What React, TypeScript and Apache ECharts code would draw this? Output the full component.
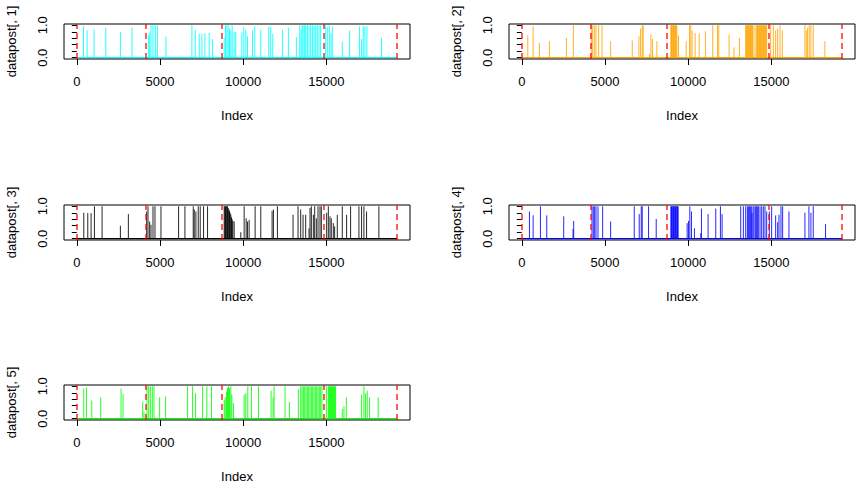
import React, { useEffect, useRef } from "react";
import * as echarts from "echarts";

const N = 19260;
const changePoints = [1, 4120, 8700, 14840, 19260];
const xTicks = [0, 5000, 10000, 15000];
const yTicks = [0, 0.2, 0.4, 0.6, 0.8, 1.0];
const yLabels = [0, 1];
const seriesNames = ["datapost[, 1]", "datapost[, 2]", "datapost[, 3]", "datapost[, 4]", "datapost[, 5]"];
const seriesColors = ["#00FFFF", "#FFA500", "#000000", "#0000FF", "#00FF00"];

const spikes1 = [
  [400, 0.97], [620, 0.84], [1040, 0.88], [1740, 0.93], [2620, 0.8], [3320, 0.93],
  [4300, 0.7], [4380, 0.77], [4460, 1], [4580, 1], [4720, 1], [4840, 1],
  [5360, 0.65], [6920, 1], [7120, 0.86], [7360, 0.74], [7520, 0.74], [7700, 0.76], [7960, 0.77], [8160, 0.58],
  [8860, 0.63], [8940, 1], [9020, 1], [9100, 1], [9180, 0.9], [9260, 0.84], [9340, 1], [9460, 0.8], [9560, 0.8],
  [9920, 0.79], [10040, 0.95], [10160, 0.86], [10260, 0.66], [10560, 0.84], [10700, 0.97], [11060, 0.86],
  [11540, 0.97], [11660, 0.95], [11780, 0.74], [12360, 0.86], [12720, 0.93], [13200, 0.64],
  [13400, 1], [13480, 0.86], [13540, 1], [13600, 1], [13680, 1], [13760, 1], [13860, 1], [13960, 1], [14060, 1],
  [14160, 1], [14260, 1], [14360, 1], [14460, 1], [14560, 1], [14660, 1],
  [14960, 1], [15060, 0.95], [15180, 1], [15280, 0.74], [15360, 0.97], [15960, 0.5], [16400, 0.84],
  [17000, 0.97], [17120, 0.58], [17220, 0.97], [17320, 0.97], [17440, 0.97], [18320, 0.61],
];

const spikes2 = [
  [360, 0.69], [680, 0.97], [1060, 0.45], [1660, 0.51], [2680, 0.61], [3100, 1],
  [4180, 1], [4260, 1], [4360, 1], [4460, 1], [4620, 1], [4820, 1],
  [5340, 0.51], [6640, 0.53], [7040, 0.66], [7140, 0.9], [7240, 1], [7300, 1], [7680, 0.12], [7760, 0.71], [7860, 0.58], [8120, 0.51],
  [8960, 1], [9000, 1], [9040, 1], [9080, 1], [9120, 1], [9160, 1], [9200, 1], [9240, 1], [9280, 1], [9320, 1],
  [9420, 0.69], [9880, 0.51], [10080, 1], [10160, 1], [10240, 0.84], [10420, 0.76], [10660, 0.74], [11040, 0.82],
  [11480, 1], [11760, 1], [11840, 1], [12460, 0.72], [12760, 0.32], [13080, 0.61],
  [13460, 1], [13500, 1], [13540, 1], [13580, 1], [13620, 1], [13660, 1], [13700, 1], [13740, 1], [13780, 1], [13820, 1], [13860, 1], [13900, 1],
  [14020, 1], [14120, 1], [14160, 1], [14200, 1], [14240, 1], [14280, 1], [14320, 1], [14360, 1], [14400, 1],
  [14440, 1], [14480, 1], [14520, 1], [14560, 1], [14600, 1], [14640, 1], [14680, 1], [14720, 1],
  [14960, 1], [15120, 1], [15260, 0.84], [15380, 0.9], [15520, 1], [15660, 0.84],
  [17020, 1], [17100, 0.84], [17180, 0.92], [17280, 1], [17380, 1], [17520, 1], [18220, 0.51],
];

const spikes3 = [
  [420, 0.8], [660, 0.79], [860, 0.79], [1060, 1], [1520, 1], [2620, 0.4], [3100, 0.76],
  [4200, 0.84], [4280, 1], [4380, 0.53], [4460, 0.43], [4580, 1], [4700, 1], [5060, 1], [6120, 1], [6500, 1],
  [7000, 1], [7060, 0.9], [7160, 0.84], [7300, 1], [7420, 1], [7620, 1], [7860, 1],
  [8860, 1], [8900, 1], [8940, 1], [8980, 1], [9020, 1], [9060, 1], [9100, 0.95], [9140, 0.9], [9180, 0.86],
  [9220, 0.8], [9260, 0.74], [9300, 0.66], [9340, 0.6], [9380, 0.55], [9460, 0.53],
  [9860, 0.2], [10060, 1], [10180, 0.63], [10260, 0.53], [10360, 0.58], [10720, 1], [11060, 1], [11740, 0.86], [11820, 0.9],
  [12060, 1], [13000, 0.74], [13300, 1], [13460, 0.9], [13600, 0.74], [13760, 0.74], [13960, 0.32], [14020, 0.95],
  [14100, 1], [14220, 0.74], [14300, 1], [14400, 0.63], [14500, 1], [14620, 1], [14700, 1],
  [15020, 0.8], [15120, 1], [15220, 0.69], [15300, 0.63], [15420, 0.48], [15500, 0.38], [15660, 0.74], [15960, 1],
  [16220, 0.74], [16460, 1], [16960, 1], [17120, 1], [17260, 1], [17420, 0.84], [18160, 1],
];

const spikes4 = [
  [460, 0.84], [680, 0.72], [1120, 1], [1500, 0.72], [2520, 0.69], [3080, 0.3], [3120, 0.55],
  [4220, 1], [4300, 1], [4380, 1], [4460, 1], [4580, 1], [4860, 1], [5340, 0.53], [6760, 1], [7060, 0.76],
  [7180, 1], [7240, 1], [7620, 1], [8080, 0.61],
  [8960, 1], [9000, 1], [9040, 1], [9080, 1], [9120, 1], [9160, 1], [9200, 1], [9240, 1], [9280, 1], [9320, 1], [9360, 1], [9400, 1],
  [9940, 0.48], [10020, 0.55], [10100, 1], [10200, 0.84], [10380, 0.32], [10760, 0.17], [10800, 0.93], [11200, 0.76],
  [11660, 0.93], [11940, 1], [12040, 0.76],
  [13160, 1], [13320, 1], [13460, 1], [13560, 1], [13620, 1], [13680, 1], [13740, 1], [13800, 1], [13840, 0.8],
  [13900, 1], [13960, 1], [14040, 1], [14100, 1], [14160, 1], [14220, 1],
  [14320, 1], [14420, 1], [14520, 1], [14620, 1], [14720, 0.84],
  [14880, 0.84], [15020, 1], [15260, 0.72], [15380, 0.51], [15460, 0.74], [15580, 1], [15680, 1], [16060, 0.84],
  [17020, 0.8], [17260, 1], [17380, 0.8], [17520, 1], [18260, 0.45],
];

const spikes5 = [
  [420, 0.93], [580, 0.97], [900, 0.56], [1440, 0.66], [2660, 0.93], [2780, 0.76], [3960, 0.53], [4040, 0.22],
  [4220, 1], [4320, 1], [4420, 1], [4540, 1], [4640, 1], [4980, 0.66], [5340, 0.69], [6660, 1], [6960, 1], [7140, 0.79],
  [7560, 1], [7820, 1], [8100, 1],
  [8860, 0.58], [8920, 0.66], [9000, 0.84], [9060, 0.95], [9120, 1], [9180, 0.95], [9260, 1], [9320, 0.76], [9420, 0.48],
  [10060, 0.74], [10160, 0.79], [10280, 1], [10500, 1], [10920, 1], [11680, 0.86], [11800, 0.66], [11860, 1],
  [12520, 1], [12780, 0.51], [13320, 0.9],
  [13460, 1], [13540, 1], [13620, 1], [13700, 1], [13780, 1], [13860, 1], [13940, 1], [14020, 1], [14100, 1],
  [14180, 1], [14260, 1], [14340, 1], [14420, 1], [14500, 1], [14580, 1], [14660, 1], [14740, 1],
  [15000, 1], [15120, 1], [15160, 1], [15200, 1], [15240, 1], [15280, 1], [15320, 1], [15360, 1], [15400, 1],
  [15440, 1], [15480, 1], [15520, 1], [15560, 1],
  [15960, 0.3], [16060, 0.38], [16200, 0.66], [17120, 0.74], [17260, 1], [17360, 0.79], [17460, 0.86], [17600, 0.66], [18120, 0.66],
];

const allSpikes = [spikes1, spikes2, spikes3, spikes4, spikes5];

const panelPos = [
  { left: 64, top: 24 },
  { left: 509, top: 24 },
  { left: 64, top: 205 },
  { left: 509, top: 205 },
  { left: 64, top: 385 },
];

const FONT = "Liberation Sans, Arial, sans-serif";

export default function App() {
  const ref = useRef<HTMLDivElement>(null);

  useEffect(() => {
    if (!ref.current) return;
    const chart = echarts.init(ref.current, undefined, { renderer: "svg" });
    const pad = 0.04 * (N - 1);
    const xMin = 1 - pad;
    const xMax = N + pad;

    const grids: any[] = [];
    const xAxes: any[] = [];
    const yAxes: any[] = [];
    const series: any[] = [];

    allSpikes.forEach((sp, i) => {
      const pos = panelPos[i];
      const color = seriesColors[i];
      grids.push({
        left: pos.left,
        top: pos.top,
        width: 346,
        height: 35,
        show: true,
        borderColor: "#000",
        borderWidth: 1,
        backgroundColor: "transparent",
        z: 5,
      });
      xAxes.push({
        gridIndex: i,
        type: "value",
        min: xMin,
        max: xMax,
        axisLine: { show: false, onZero: false },
        axisTick: { show: true, customValues: xTicks, length: 6, lineStyle: { color: "#000", width: 1 } },
        axisLabel: {
          customValues: xTicks,
          margin: 16,
          fontSize: 13,
          color: "#000",
          fontFamily: FONT,
          formatter: (v: number) => String(Math.round(v)),
        },
        splitLine: { show: false },
        name: "Index",
        nameLocation: "middle",
        nameGap: 50,
        nameTextStyle: { fontSize: 13, color: "#000", fontFamily: FONT },
      });
      yAxes.push({
        gridIndex: i,
        type: "value",
        min: -0.04,
        max: 1.04,
        axisLine: { show: false },
        axisTick: { show: true, customValues: yTicks, length: 5, lineStyle: { color: "#000", width: 1 } },
        axisLabel: {
          customValues: yLabels,
          rotate: 90,
          margin: 15,
          fontSize: 13,
          color: "#000",
          fontFamily: FONT,
          formatter: (v: number) => v.toFixed(1),
        },
        splitLine: { show: false },
        name: seriesNames[i],
        nameLocation: "middle",
        nameGap: 46,
        nameTextStyle: { fontSize: 13, color: "#000", fontFamily: FONT },
      });
      series.push({
        type: "custom",
        xAxisIndex: i,
        yAxisIndex: i,
        z: 2,
        data: sp,
        renderItem: (params: any, api: any) => {
          const x = api.value(0);
          const y = api.value(1);
          const p0 = api.coord([x, 0]);
          const p1 = api.coord([x, y]);
          return {
            type: "line",
            shape: { x1: p0[0], y1: p0[1], x2: p1[0], y2: p1[1] },
            style: { stroke: color, lineWidth: 1, opacity: 0.85 },
          };
        },
      });
      series.push({
        type: "line",
        xAxisIndex: i,
        yAxisIndex: i,
        z: 3,
        showSymbol: false,
        symbol: "none",
        data: [[1, 0], [N, 0]],
        lineStyle: { color, width: 1.2 },
        markLine: {
          silent: true,
          symbol: ["none", "none"],
          label: { show: false },
          lineStyle: { color: "#FF0000", type: [6, 4], width: 1.5, opacity: 0.85 },
          data: changePoints.map((v) => ({ xAxis: v })),
        },
      });
    });

    chart.setOption({
      animation: false,
      backgroundColor: "#fff",
      grid: grids,
      xAxis: xAxes,
      yAxis: yAxes,
      series,
    });
    return () => chart.dispose();
  }, []);

  return (
    <div
      ref={ref}
      style={{ position: "absolute", left: 0, top: 0, width: 866, height: 496 }}
    />
  );
}
